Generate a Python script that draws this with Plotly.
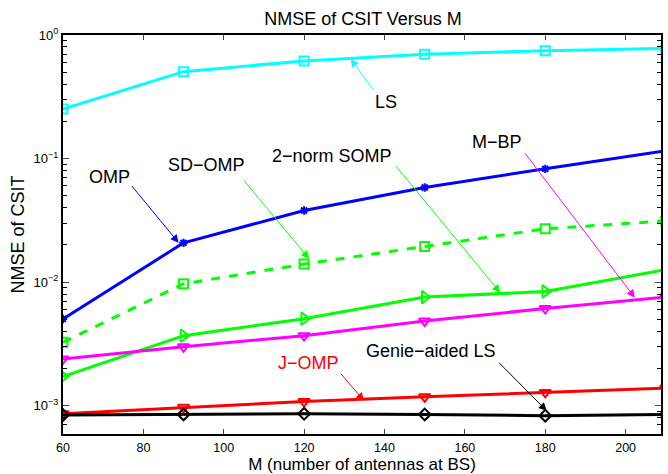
import plotly.graph_objects as go

M = [60, 90, 120, 150, 180, 210]

ls_vals = [0.252, 0.505, 0.617, 0.700, 0.746, 0.780]
omp_vals = [0.00503, 0.0208, 0.0380, 0.0583, 0.0826, 0.1154]
sdomp_vals = [0.00326, 0.0097, 0.0140, 0.0194, 0.0270, 0.0313]
somp_vals = [0.00172, 0.00369, 0.00506, 0.00757, 0.0084, 0.0126]
mbp_vals = [0.00239, 0.00300, 0.00369, 0.00484, 0.00612, 0.00757]
jomp_vals = [0.00086, 0.00097, 0.00108, 0.00118, 0.00128, 0.00139]
genie_vals = [0.00084, 0.00085, 0.00086, 0.00085, 0.00083, 0.00085]

x_ticks = [60, 80, 100, 120, 140, 160, 180, 200]
y_ticks = [1e-3, 1e-2, 1e-1, 1e0]
y_ticktext = ["10<sup>−3</sup>", "10<sup>−2</sup>", "10<sup>−1</sup>", "10<sup>0</sup>"]

FONT = "Liberation Sans, Arial, Helvetica, sans-serif"

fig = go.Figure()

def add(y, color, symbol, dash="solid", msize=9):
    fig.add_trace(go.Scatter(
        x=M, y=y, mode="lines+markers",
        line=dict(color=color, width=3, dash=dash),
        marker=dict(symbol=symbol, size=msize, color=color,
                    line=dict(color=color, width=2)),
        showlegend=False, cliponaxis=True, hoverinfo="skip"))

add(ls_vals, "#00FFFF", "square-open")
add(omp_vals, "#0000FF", "asterisk-open", msize=7)
add(sdomp_vals, "#00FF00", "square-open", dash="dash")
add(somp_vals, "#00FF00", "triangle-right-open", msize=11)
add(mbp_vals, "#FF00FF", "triangle-down-open", msize=10)
add(jomp_vals, "#FF0000", "triangle-down-open", msize=10)
add(genie_vals, "#000000", "diamond-open", msize=9)

# plot area pixel mapping (for annotation placement)
X0, X1 = 60, 208.8
Y0, Y1 = -3.229, 0.0
L, R, T, B = 63, 663, 35, 435

def px2x(px):
    return X0 + (px - L) / (R - L) * (X1 - X0)

def py2y(py):
    return Y1 - (py - T) / (B - T) * (Y1 - Y0)

labels = [
    ("LS", "#000000", (387, 102), (351.7, 59), (375.7, 91.7), "#00FFFF"),
    ("OMP", "#000000", (110, 177), (179, 243.3), (131, 185), "#0000FF"),
    ("SD−OMP", "#000000", (207, 165), (310, 259.3), (243.3, 179.3), "#00FF00"),
    ("2−norm SOMP", "#000000", (333, 156), (501.7, 293.3), (396, 165), "#00FF00"),
    ("M−BP", "#000000", (498, 142), (636.7, 298.3), (525.7, 152.3), "#FF00FF"),
    ("J−OMP", "#FF0000", (309, 364), (365, 401.7), (340.7, 373.3), "#FF0000"),
    ("Genie−aided LS", "#000000", (432, 352), (548.3, 411.7), (499.3, 362.3), "#000000"),
]

for text, tcolor, tp, hp, tl, acolor in labels:
    fig.add_annotation(x=px2x(tp[0]), y=py2y(tp[1]), xref="x", yref="y",
                       text=text, showarrow=False,
                       font=dict(family=FONT, size=18, color=tcolor))
    fig.add_annotation(x=px2x(hp[0]), y=py2y(hp[1]), xref="x", yref="y",
                       ax=tl[0] - hp[0], ay=tl[1] - hp[1],
                       axref="pixel", ayref="pixel",
                       text="", showarrow=True, arrowhead=2, arrowsize=1.6,
                       arrowwidth=1, arrowcolor=acolor)

minor_vals = []
for e in range(-4, 1):
    for k in range(2, 10):
        minor_vals.append(k * 10 ** e)

fig.update_layout(
    width=668, height=474,
    margin=dict(l=L, r=668 - R, t=T, b=474 - B),
    paper_bgcolor="white", plot_bgcolor="white",
    font=dict(family=FONT, size=13, color="black"),
    title=dict(text="NMSE of CSIT Versus M", x=(L + R) / 2 / 668, xanchor="center",
               y=1 - 19 / 474, yanchor="middle",
               font=dict(family=FONT, size=18, color="black")),
    xaxis=dict(range=[X0, X1], tickvals=x_ticks, ticks="inside", ticklen=5,
               showline=True, linecolor="black", linewidth=2, mirror="allticks",
               showgrid=False, zeroline=False, ticklabelstandoff=1,
               tickfont=dict(family=FONT, size=12.5),
               title=dict(text="M (number of antennas at BS)",
                          font=dict(family=FONT, size=17), standoff=2)),
    yaxis=dict(type="log", range=[Y0, Y1], tickvals=y_ticks, ticktext=y_ticktext,
               ticks="inside", ticklen=6,
               showline=True, linecolor="black", linewidth=2, mirror="allticks",
               showgrid=False, zeroline=False,
               tickfont=dict(family=FONT, size=13),
               minor=dict(ticks="inside", ticklen=4, tickvals=minor_vals,
                          tickcolor="black", showgrid=False),
               title=dict(text="NMSE of CSIT", font=dict(family=FONT, size=18), standoff=4)),
)

fig.write_html("out.html", config={"displayModeBar": False},
               post_script="document.body.style.margin='0px';document.body.style.overflow='hidden';")
